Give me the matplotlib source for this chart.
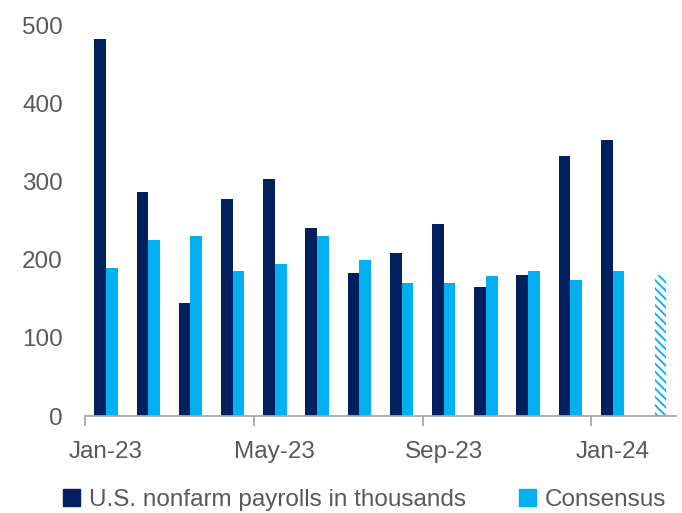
import numpy as np
import matplotlib
matplotlib.use("Agg")
import matplotlib.pyplot as plt
from matplotlib.patches import Patch

# monthly data, Jan-23 .. Feb-24 (thousands)
months = ["Jan-23", "Feb-23", "Mar-23", "Apr-23", "May-23", "Jun-23", "Jul-23",
          "Aug-23", "Sep-23", "Oct-23", "Nov-23", "Dec-23", "Jan-24", "Feb-24"]
payrolls = [482, 287, 145, 278, 303, 240, 183, 209, 246, 165, 181, 333, 353]
consensus = [189, 225, 230, 185, 194, 230, 200, 170, 170, 179, 185, 174, 185]
consensus_next = 180  # Feb-24 expectation (hatched)

tick_labels = ["Jan-23", "May-23", "Sep-23", "Jan-24"]
y_ticks = [0, 100, 200, 300, 400, 500]

navy = "#002060"
cyan = "#00B0F0"
grey_text = "#595959"

plt.rcParams["font.family"] = ["Liberation Sans", "DejaVu Sans"]
plt.rcParams["hatch.linewidth"] = 1.3

fig = plt.figure(figsize=(6.82, 5.13), dpi=100)
ax = fig.add_axes([0.1246, 0.189, 0.8664, 0.762])

w = 0.277
x = np.arange(len(payrolls))
ax.bar(x - w / 2, payrolls, width=w, color=navy, linewidth=0)
ax.bar(x + w / 2, consensus, width=w, color=cyan, linewidth=0)
ax.bar(len(months) - 1 + w / 2, consensus_next, width=w, facecolor="white",
       edgecolor=cyan, hatch="\\" * 4, linewidth=0)

ax.set_xlim(-0.5, len(months) - 0.5)
ax.set_ylim(0, 500)

# y axis: labels only
ax.set_yticks(y_ticks)
ax.tick_params(axis="y", length=0, pad=16, labelsize=17.5, labelcolor=grey_text)

# x axis: ticks between categories every 4 months, labels centred on months
ax.set_xticks([-0.5, 3.5, 7.5, 11.5])
ax.set_xticklabels([])
ax.set_xticks([0, 4, 8, 12], minor=True)
ax.set_xticklabels(tick_labels, minor=True)
ax.tick_params(axis="x", which="major", length=7, width=1.3, color="#A6A6A6")
ax.tick_params(axis="x", which="minor", length=0, pad=18, labelsize=17.5,
               labelcolor=grey_text)

for s in ["top", "right", "left"]:
    ax.spines[s].set_visible(False)
ax.spines["bottom"].set_color("#A6A6A6")
ax.spines["bottom"].set_linewidth(1.3)

handles = [Patch(color=navy, label="U.S. nonfarm payrolls in thousands"),
           Patch(color=cyan, label="Consensus")]
fig.legend(handles=handles, loc="center", bbox_to_anchor=(0.535, 0.025), ncol=2,
           frameon=False, fontsize=17.5, labelcolor=grey_text,
           handlelength=0.7, handleheight=0.7, handletextpad=0.35, columnspacing=2.2)

plt.savefig("out.png", dpi=100)
plt.close()
